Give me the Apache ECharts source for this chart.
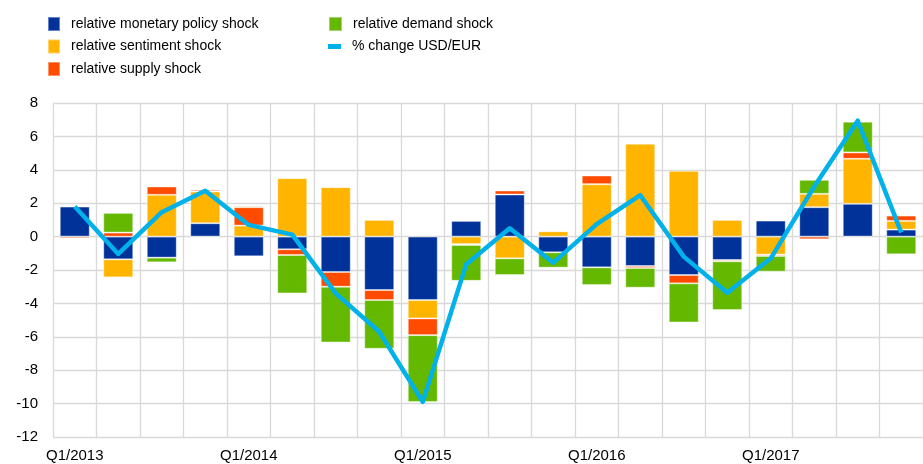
<!DOCTYPE html>
<html>
<head>
<meta charset="utf-8">
<script src="https://cdn.jsdelivr.net/npm/echarts@6/dist/echarts.min.js"></script>
<style>
html,body{margin:0;padding:0;background:#fff;}
#chart{width:923px;height:464px;}
</style>
</head>
<body>
<div id="chart"></div>
<script>
var categories = ['Q1/2013','Q2/2013','Q3/2013','Q4/2013',
                  'Q1/2014','Q2/2014','Q3/2014','Q4/2014',
                  'Q1/2015','Q2/2015','Q3/2015','Q4/2015',
                  'Q1/2016','Q2/2016','Q3/2016','Q4/2016',
                  'Q1/2017','Q2/2017','Q3/2017','Q4/2017'];

var monetary  = [1.8, -1.36, -1.26, 0.8, -1.18, -0.76, -2.12, -3.2, -3.8, 0.94, 2.52, -0.94, -1.84, -1.76, -2.3, -1.4, 0.96, 1.76, 1.96, 0.42];
var sentiment = [0, -1.08, 2.5, 1.9, 0.66, 3.5, 2.96, 1.0, -1.1, -0.45, -1.3, 0.32, 3.14, 5.56, 3.94, 1.0, -1.08, 0.8, 2.7, 0.52];
var supply    = [-0.1, 0.24, 0.5, 0.1, 1.1, -0.34, -0.88, -0.6, -1.0, -0.05, 0.24, 0, 0.52, -0.12, -0.5, -0.08, -0.08, -0.16, 0.38, 0.32];
var demand    = [0.06, 1.18, -0.28, -0.06, 0.08, -2.3, -3.34, -2.92, -4.0, -2.15, -1.0, -0.92, -1.06, -1.18, -2.34, -2.92, -0.94, 0.84, 1.84, -1.06];
var usdEur    = [1.8, -1.04, 1.46, 2.74, 0.7, 0.12, -3.4, -5.7, -9.9, -1.65, 0.5, -1.56, 0.75, 2.48, -1.2, -3.36, -1.3, 3.0, 6.94, 0.24];

var yTicks = {min: -12, max: 8, interval: 2};

var names = ['relative monetary policy shock','relative sentiment shock','relative supply shock','relative demand shock','% change USD/EUR'];
var colors = ['#003299','#FFB400','#FF4B00','#65B800','#00B1EA'];

function barSeries(idx, data){
  return {
    name: names[idx],
    type: 'bar',
    stack: 'shocks',
    stackStrategy: 'samesign',
    barWidth: 30,
    data: data,
    itemStyle: {color: colors[idx], borderColor: 'rgba(255,255,255,0.4)', borderWidth: 1},
    emphasis: {disabled: true},
    silent: true
  };
}

var series = [
  barSeries(0, monetary),
  barSeries(1, sentiment),
  barSeries(2, supply),
  barSeries(3, demand),
  {
    name: names[4],
    type: 'line',
    data: usdEur,
    symbol: 'none',
    z: 5,
    lineStyle: {color: colors[4], width: 4.5, join: 'round'},
    itemStyle: {color: colors[4]},
    silent: true
  }
];

var chart = echarts.init(document.getElementById('chart'), null, {renderer:'canvas'});
chart.setOption({
  animation: false,
  backgroundColor: '#fff',
  textStyle: {fontFamily: 'Liberation Sans, Arial, sans-serif'},
  legend: [
    {
      data: [names[0], names[1], names[2]],
      orient: 'vertical', left: 47, top: 16, itemGap: 6.5, padding: 0,
      itemWidth: 12, itemHeight: 14,
      textStyle: {fontSize: 14, color: '#000', padding: [0,0,0,6]},
      icon: 'rect', selectedMode: false
    },
    {
      data: [names[3]],
      orient: 'vertical', left: 328, top: 16, padding: 0,
      itemWidth: 13, itemHeight: 14,
      textStyle: {fontSize: 14, color: '#000', padding: [0,0,0,6]},
      icon: 'rect', selectedMode: false
    },
    {
      data: [{name: names[4], icon: 'rect', itemStyle: {color: colors[4]}}],
      orient: 'vertical', left: 328, top: 38.5, padding: 0,
      itemWidth: 13, itemHeight: 5,
      textStyle: {fontSize: 14, color: '#000', padding: [0,0,0,6], lineHeight: 16},
      selectedMode: false
    }
  ],
  grid: {left: 53, top: 103, width: 880, height: 334, containLabel: false},
  xAxis: {
    type: 'category',
    data: categories,
    boundaryGap: true,
    axisLine: {show: false},
    axisTick: {show: false},
    axisLabel: {interval: 3, fontSize: 15, color: '#000', margin: 11},
    splitLine: {show: true, interval: 0, lineStyle: {color: '#d9d9d9', width: 1.3}}
  },
  yAxis: {
    type: 'value',
    min: yTicks.min, max: yTicks.max, interval: yTicks.interval,
    axisLine: {show: false},
    axisTick: {show: false},
    axisLabel: {fontSize: 15, color: '#000', margin: 15},
    splitLine: {show: true, lineStyle: {color: '#d9d9d9', width: 1.3}}
  },
  series: series
});
</script>
</body>
</html>
